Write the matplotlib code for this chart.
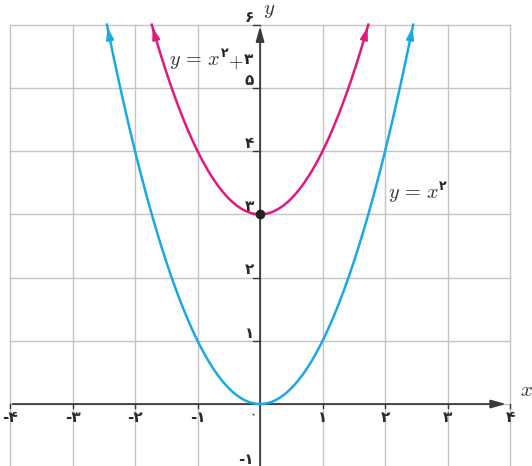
import numpy as np
import matplotlib
import matplotlib.pyplot as plt

plt.rcParams['mathtext.fontset'] = 'cm'

# data
x_ticks = [-4, -3, -2, -1, 1, 2, 3, 4]
x_tick_labels = ['-۴', '-۳', '-۲', '-۱', '۱', '۲', '۳', '۴']
y_ticks = [-1, 1, 2, 3, 4, 5, 6]
y_tick_labels = ['-۱', '۱', '۲', '۳', '۴', '۵', '۶']
shift = 3  # y = x^2 + 3
x_end_base = np.sqrt(6)
x_end_shift = np.sqrt(6 - shift)

cyan = '#1aa9e2'
magenta = '#e0187f'
gridc = '#c4c4c4'
axc = '#3a3a3a'
digit_font = 'DejaVu Sans'

fig = plt.figure(figsize=(5.32, 4.66), dpi=100)
ax = fig.add_axes([0, 0, 1, 1])
ax.set_xlim(-4.16, 4.35)
ax.set_ylim(-0.98, 6.39)
ax.axis('off')
renderer = fig.canvas.get_renderer()

# grid
for gx in range(-4, 5):
    ax.plot([gx, gx], [-1.2, 6], color=gridc, lw=1.0, zorder=1)
for gy in range(-1, 7):
    ax.plot([-4, 4], [gy, gy], color=gridc, lw=1.0, zorder=1)

# axes with arrows
ax.annotate('', xy=(3.98, 0), xytext=(-4, 0),
            arrowprops=dict(arrowstyle='-|>,head_length=0.9,head_width=0.25', color=axc, lw=1.3), zorder=3)
ax.annotate('', xy=(0, 6.02), xytext=(0, -1.2),
            arrowprops=dict(arrowstyle='-|>,head_length=0.9,head_width=0.25', color=axc, lw=1.3), zorder=3)

# ticks
for t in x_ticks:
    ax.plot([t, t], [0, -0.07], color=axc, lw=1.0, zorder=3)
for t in y_ticks:
    ax.plot([-0.12, 0], [t, t], color=axc, lw=1.0, zorder=3)

# tick labels
for t, lab in zip(x_ticks, x_tick_labels):
    ax.text(t, -0.09, lab, ha='center', va='top', fontsize=11, weight='bold', family=digit_font, color='#2a2a2a')
for t, lab in zip(y_ticks, y_tick_labels):
    ax.text(-0.1, t + 0.12, lab, ha='right', va='center', fontsize=11, weight='bold', family=digit_font, color='#2a2a2a')
ax.text(-0.12, -0.16, '۰', ha='center', va='center', fontsize=12, family=digit_font, color='#2a2a2a')

# axis letters
ax.text(4.16, 0.06, '$x$', fontsize=15, ha='left', va='bottom', color='#333333')
ax.text(0.04, 6.08, '$y$', fontsize=15, ha='left', va='bottom', color='#333333')

# curves
xs = np.linspace(-x_end_base, x_end_base, 400)
ax.plot(xs, xs ** 2, color=cyan, lw=1.8, zorder=4)
xs2 = np.linspace(-x_end_shift, x_end_shift, 400)
ax.plot(xs2, xs2 ** 2 + shift, color=magenta, lw=1.8, zorder=4)

# arrow heads on curve ends
for xe, off, c in [(x_end_base, 0, cyan), (x_end_shift, shift, magenta)]:
    for s in (-1, 1):
        tip = s * xe
        back = s * (xe - 0.04)
        ax.annotate('', xy=(tip, tip ** 2 + off), xytext=(back, back ** 2 + off),
                    arrowprops=dict(arrowstyle='-|>,head_length=0.7,head_width=0.22', color=c, lw=1.5),
                    zorder=5)

ax.plot([0], [shift], 'o', color='#222222', ms=6, zorder=6)


def curve_label(x0, y0, extra):
    t = ax.text(x0, y0, '$y\\,=\\,x$', fontsize=14.5, ha='left', va='center', color='#333333')
    bb = t.get_window_extent(renderer=renderer)
    right = bb.x1
    ax.annotate('۲', xy=(right, bb.y1 - 8), xycoords='figure pixels',
                xytext=(0, 0), textcoords='offset points', fontsize=9, weight='bold',
                family=digit_font, color='#222222', ha='left', va='bottom')
    if extra:
        ax.annotate('$+$', xy=(right, (bb.y0 + bb.y1) / 2), xycoords='figure pixels',
                    xytext=(5.5, 0), textcoords='offset points', fontsize=13.5,
                    ha='left', va='center', color='#333333')
        ax.annotate('۳', xy=(right, (bb.y0 + bb.y1) / 2 + 2), xycoords='figure pixels',
                    xytext=(16.5, 0), textcoords='offset points', fontsize=11, weight='bold',
                    family=digit_font, ha='left', va='center', color='#222222')


curve_label(-1.45, 5.41, True)
curve_label(2.05, 3.31, False)

fig.savefig('out.png', dpi=100)
